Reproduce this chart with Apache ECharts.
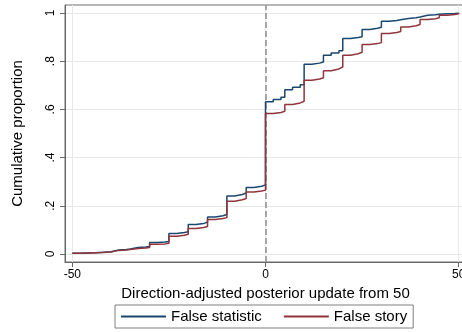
<!DOCTYPE html>
<html>
<head>
<meta charset="utf-8">
<script src="https://cdn.jsdelivr.net/npm/echarts@6/dist/echarts.min.js"></script>
<style>html,body{margin:0;padding:0;background:#fff}#c{width:462px;height:332px}</style>
</head>
<body>
<div id="c"></div>
<script>
// Update values (x) where the cumulative proportion steps
var updates = [-50,-48,-46,-44,-42,-40,-38,-36,-35,-33,-31,-30,-28,-26,-25,-23,-21,-20,-18,-16,-15,-13,-11,-10,-8,-6,-5,-3,-1,
  0,2,4,5,7,9,10,12,14,15,17,19,20,22,24,25,27,29,30,32,34,35,37,39,40,42,44,45,47,49,50];
var falseStatistic = [0.003,0.004,0.005,0.007,0.009,0.017,0.019,0.021,0.027,0.029,0.031,0.048,0.050,0.052,0.085,0.089,0.092,0.122,0.127,0.132,0.154,0.159,0.164,0.241,0.247,0.253,0.276,0.281,0.287,
  0.632,0.641,0.650,0.682,0.692,0.702,0.787,0.792,0.797,0.825,0.834,0.843,0.894,0.898,0.901,0.932,0.937,0.941,0.966,0.969,0.972,0.977,0.980,0.983,0.991,0.993,0.995,0.997,0.998,0.999,1.0];
var falseStory = [0.003,0.004,0.005,0.006,0.008,0.015,0.017,0.019,0.023,0.025,0.027,0.040,0.042,0.045,0.074,0.078,0.082,0.106,0.110,0.114,0.143,0.147,0.151,0.219,0.225,0.230,0.257,0.261,0.265,
  0.583,0.587,0.592,0.620,0.627,0.634,0.721,0.726,0.731,0.760,0.768,0.776,0.825,0.831,0.837,0.869,0.873,0.877,0.915,0.919,0.923,0.942,0.947,0.952,0.973,0.976,0.980,0.991,0.994,0.997,1.0];
var xTicks = [-50, 0, 50];
var yTicks = [0, 0.2, 0.4, 0.6, 0.8, 1];
var seriesNames = ['False statistic', 'False story'];

function pairs(xs, ys){ return xs.map(function(x,i){ return [x, ys[i]]; }); }
function yFmt(v){ if (v === 0) return '0'; if (v === 1) return '1'; return String(Math.round(v*10)/10).replace(/^0/, ''); }

var FONT = 'Arial, "Liberation Sans", sans-serif';
var chart = echarts.init(document.getElementById('c'), null, {renderer:'canvas'});
chart.setOption({
  animation: false,
  backgroundColor: '#ffffff',
  textStyle: {fontFamily: FONT},
  grid: {left: 65, top: 5, width: 401, height: 257, show: true, borderColor: '#6f6f6f', borderWidth: 1,
         containLabel: false, outerBoundsMode: 'none'},
  xAxis: {
    type: 'value', min: -51.9, max: 51.9,
    name: 'Direction-adjusted posterior update from 50', nameLocation: 'middle', nameGap: 18,
    nameTextStyle: {fontSize: 15, color: '#000', fontFamily: FONT},
    axisLine: {show: true, onZero: false, lineStyle: {color: '#666', width: 1}},
    axisTick: {show: true, length: 5, customValues: xTicks, lineStyle: {color: '#666'}},
    axisLabel: {customValues: xTicks, fontSize: 12, color: '#000', margin: 7, fontFamily: FONT},
    splitLine: {show: true, lineStyle: {color: '#e8e8e8', width: 1}}
  },
  yAxis: {
    type: 'value', min: -0.0332, max: 1.0332,
    name: 'Cumulative proportion', nameLocation: 'middle', nameGap: 40,
    nameTextStyle: {fontSize: 15, color: '#000', fontFamily: FONT},
    axisLine: {show: true, onZero: false, lineStyle: {color: '#666', width: 1}},
    axisTick: {show: true, length: 5, customValues: yTicks, lineStyle: {color: '#666'}},
    axisLabel: {customValues: yTicks, rotate: 90, fontSize: 12, color: '#000', margin: 8, formatter: yFmt, fontFamily: FONT},
    splitLine: {show: true, lineStyle: {color: '#e8e8e8', width: 1}}
  },
  legend: {
    left: 115, top: 305, orient: 'horizontal',
    data: seriesNames,
    icon: 'rect', itemWidth: 45, itemHeight: 2, itemGap: 22,
    padding: [4, 6, 4, 6],
    borderColor: '#7f7f7f', borderWidth: 1,
    textStyle: {fontSize: 15, color: '#000', fontFamily: FONT}
  },
  series: [
    {
      name: seriesNames[0], type: 'line', step: 'end', showSymbol: false, symbol: 'none',
      data: pairs(updates, falseStatistic), color: '#1a476f',
      lineStyle: {color: '#1a476f', width: 1.5},
      markLine: {
        silent: true, symbol: 'none', z: 1,
        label: {show: false},
        lineStyle: {color: '#8c8c8c', type: [6, 3], width: 1.5},
        data: [{xAxis: 0}]
      },
      z: 3
    },
    {
      name: seriesNames[1], type: 'line', step: 'end', showSymbol: false, symbol: 'none',
      data: pairs(updates, falseStory), color: '#90353b',
      lineStyle: {color: '#90353b', width: 1.5},
      z: 4
    }
  ]
});
</script>
</body>
</html>
